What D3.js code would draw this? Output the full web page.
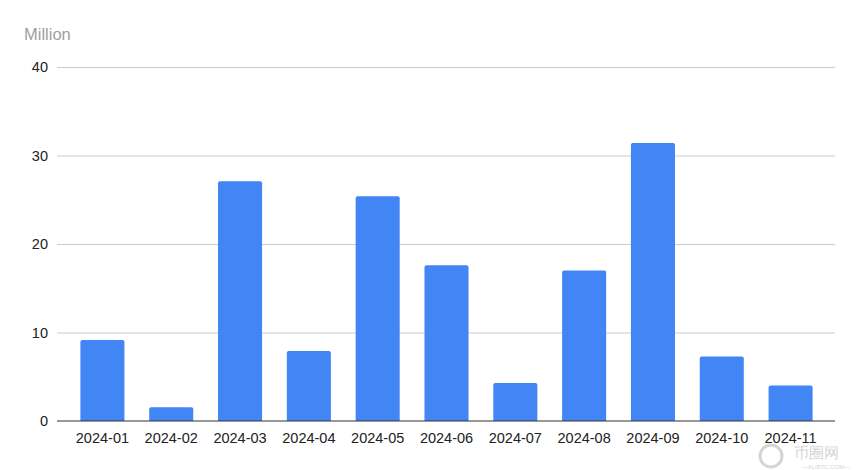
<!DOCTYPE html>
<html>
<head>
<meta charset="utf-8">
<script src="https://cdn.jsdelivr.net/npm/d3@7"></script>
<style>
  body { margin: 0; background: #fff; }
  text { font-family: "Liberation Sans", Arial, sans-serif; }
</style>
</head>
<body>
<div id="container"></div>
<script>
const months = ['2024-01', '2024-02', '2024-03', '2024-04', '2024-05', '2024-06',
  '2024-07', '2024-08', '2024-09', '2024-10', '2024-11'];
const values = [9.15, 1.55, 27.1, 7.9, 25.4, 17.6, 4.3, 17.0, 31.4, 7.3, 4.0];
const yTicks = [0, 10, 20, 30, 40];

const dimensions = { x: 860, y: 470 };
const plot = { left: 57, right: 835, top: 67, bottom: 421 };
const barColor = '#4285f4';

const svg = d3
  .select('#container')
  .append('svg')
  .attr('width', dimensions.x)
  .attr('height', dimensions.y);

const xScale = d3
  .scaleBand()
  .domain(months)
  .range([plot.left + 11, plot.right - 10])
  .paddingInner(0.36)
  .paddingOuter(0.18);

const yScale = d3.scaleLinear().domain([0, 40]).range([plot.bottom, plot.top]);

// gridlines + y labels
svg
  .append('g')
  .selectAll('line')
  .data(yTicks.filter((d) => d > 0))
  .enter()
  .append('line')
  .attr('x1', plot.left)
  .attr('x2', plot.right)
  .attr('y1', (d) => yScale(d) + 0.5)
  .attr('y2', (d) => yScale(d) + 0.5)
  .attr('stroke', '#cccccc')
  .attr('stroke-width', 1);

svg
  .append('g')
  .selectAll('text')
  .data(yTicks)
  .enter()
  .append('text')
  .attr('x', 48)
  .attr('y', (d) => yScale(d) + 5)
  .attr('text-anchor', 'end')
  .attr('font-size', 14.5)
  .attr('fill', '#222')
  .text((d) => d);

svg
  .append('text')
  .attr('x', 24)
  .attr('y', 40)
  .attr('font-size', 16.5)
  .attr('fill', '#9e9e9e')
  .text('Million');

// bars
svg
  .append('g')
  .selectAll('path')
  .data(months)
  .enter()
  .append('path')
  .attr('fill', barColor)
  .attr('d', (d, i) => {
    const x = xScale(d);
    const w = xScale.bandwidth();
    const y = yScale(values[i]);
    const b = yScale(0);
    const r = 2;
    return 'M' + x + ',' + b +
      'V' + (y + r) +
      'Q' + x + ',' + y + ' ' + (x + r) + ',' + y +
      'H' + (x + w - r) +
      'Q' + (x + w) + ',' + y + ' ' + (x + w) + ',' + (y + r) +
      'V' + b + 'Z';
  });

// baseline
svg
  .append('line')
  .attr('x1', plot.left)
  .attr('x2', plot.right)
  .attr('y1', plot.bottom)
  .attr('y2', plot.bottom)
  .attr('stroke', '#333')
  .attr('stroke-width', 1.2);

// x labels
svg
  .append('g')
  .selectAll('text')
  .data(months)
  .enter()
  .append('text')
  .attr('x', (d) => xScale(d) + xScale.bandwidth() / 2)
  .attr('y', 443)
  .attr('text-anchor', 'middle')
  .attr('font-size', 14.5)
  .attr('fill', '#222')
  .text((d) => d);

// watermark
const wm = svg.append('g').attr('opacity', 0.35);
wm.append('circle')
  .attr('cx', 771)
  .attr('cy', 456)
  .attr('r', 11)
  .attr('fill', 'none')
  .attr('stroke', '#888')
  .attr('stroke-width', 3);
wm.append('text')
  .attr('x', 794)
  .attr('y', 458)
  .attr('font-family', '"Noto Sans CJK SC", sans-serif')
  .attr('font-size', 15)
  .attr('fill', '#888')
  .text('币圈网');
wm.append('text')
  .attr('x', 826)
  .attr('y', 469)
  .attr('text-anchor', 'middle')
  .attr('font-size', 6)
  .attr('fill', '#888')
  .text('—ALIBTC.COM—');
</script>
</body>
</html>
